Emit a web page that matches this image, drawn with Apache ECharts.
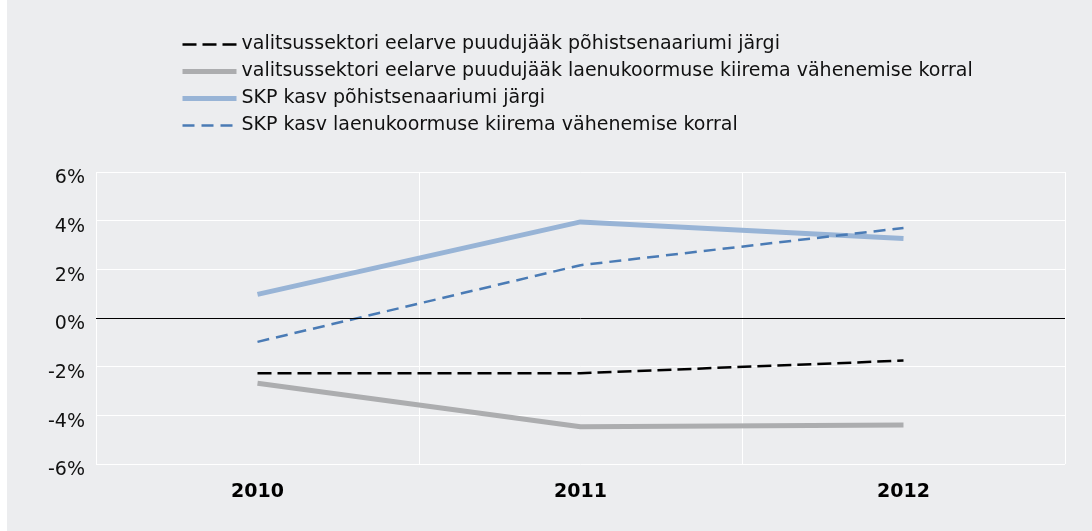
<!DOCTYPE html>
<html>
<head>
<meta charset="utf-8">
<script src="https://cdn.jsdelivr.net/npm/echarts@6/dist/echarts.min.js"></script>
<style>
  html, body { margin: 0; padding: 0; background: #ffffff; }
  #main { position: absolute; left: 7px; top: 0; width: 1085px; height: 531px; background: #ecedef; }
</style>
</head>
<body>
<div id="main"></div>
<script>
var years = ['2010', '2011', '2012'];
var seriesNames = [
    'valitsussektori eelarve puudujääk põhistsenaariumi järgi',
    'valitsussektori eelarve puudujääk laenukoormuse kiirema vähenemise korral',
    'SKP kasv põhistsenaariumi järgi',
    'SKP kasv laenukoormuse kiirema vähenemise korral'
];
var deficitBase = [-2.27, -2.27, -1.75];
var deficitFast = [-2.68, -4.47, -4.40];
var gdpBase = [0.97, 3.95, 3.27];
var gdpFast = [-0.98, 2.17, 3.70];

var yTicks = { min: -6, max: 6, step: 2 };

function build() {
    var myChart = echarts.init(document.getElementById('main'));
    var font = '"DejaVu Sans", Verdana, sans-serif';

    var option = {
        backgroundColor: 'transparent',
        animation: false,
        textStyle: { fontFamily: font },
        legend: {
            orient: 'vertical',
            left: 168,
            top: 30,
            itemWidth: 54,
            itemHeight: 14,
            itemGap: 8,
            itemStyle: { opacity: 0 },
            lineStyle: { width: 'inherit' },
            textStyle: { fontSize: 19, lineHeight: 19, color: '#111', fontFamily: font },
            data: seriesNames
        },
        grid: { left: 89, right: 27, top: 172, bottom: 67 },
        xAxis: {
            type: 'category',
            data: years,
            boundaryGap: true,
            axisLine: { show: false },
            axisTick: { show: false },
            axisLabel: { fontSize: 19, fontWeight: 'bold', color: '#000', margin: 19, fontFamily: font },
            splitLine: { show: true, lineStyle: { color: '#ffffff', width: 1 } }
        },
        yAxis: {
            type: 'value',
            min: yTicks.min,
            max: yTicks.max,
            interval: yTicks.step,
            axisLine: { show: false },
            axisTick: { show: false },
            axisLabel: {
                fontSize: 19, color: '#111', margin: 11, fontFamily: font,
                verticalAlign: 'top',
                lineHeight: 13,
                formatter: function (v) { return v + '%'; }
            },
            splitLine: { show: true, lineStyle: { color: '#ffffff', width: 1 } }
        },
        series: [
            {
                name: seriesNames[0],
                type: 'line',
                data: deficitBase,
                symbol: 'none',
                lineStyle: { color: '#000000', width: 2.5, type: [14, 6] },
                itemStyle: { color: '#000000' },
                markLine: {
                    silent: true,
                    symbol: 'none',
                    label: { show: false },
                    lineStyle: { color: '#000000', width: 1, type: 'solid' },
                    data: [{ yAxis: 0 }]
                },
                z: 4
            },
            {
                name: seriesNames[1],
                type: 'line',
                data: deficitFast,
                symbol: 'none',
                lineStyle: { color: '#acadaf', width: 5 },
                itemStyle: { color: '#acadaf' },
                z: 2
            },
            {
                name: seriesNames[2],
                type: 'line',
                data: gdpBase,
                symbol: 'none',
                lineStyle: { color: '#98b4d6', width: 5 },
                itemStyle: { color: '#98b4d6' },
                z: 2
            },
            {
                name: seriesNames[3],
                type: 'line',
                data: gdpFast,
                symbol: 'none',
                lineStyle: { color: '#4a7bb5', width: 2.5, type: [12, 7] },
                itemStyle: { color: '#4a7bb5' },
                z: 3
            }
        ]
    };

    myChart.setOption(option);
}

build();
</script>
</body>
</html>
